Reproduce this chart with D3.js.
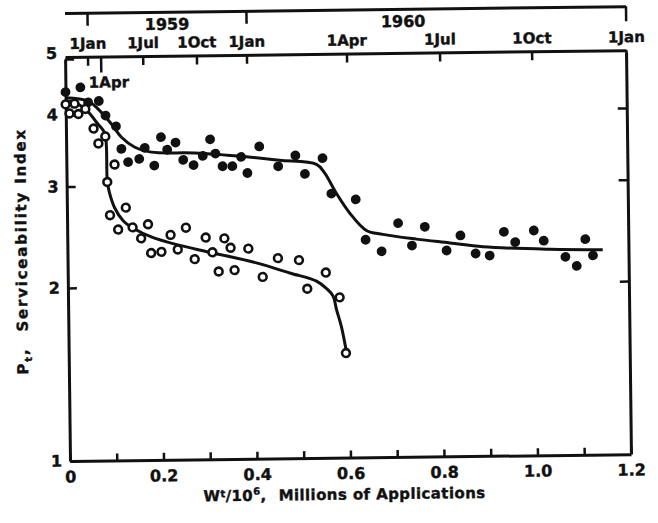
<!DOCTYPE html>
<html>
<head>
<meta charset="utf-8">
<script src="https://cdnjs.cloudflare.com/ajax/libs/d3/7.8.5/d3.min.js"></script>
<style>
  body { margin: 0; background: #fff; }
  svg { display: block; }
  text { font-family: "DejaVu Sans", sans-serif; font-weight: bold; fill: #111; stroke: #111; stroke-width: 0.4px; }
  .axis path, .axis line { stroke: #111; }
  .axis path { stroke-width: 3; }
  .axis line { stroke-width: 2.5; }
  .axis text { font-size: 16px; font-family: "DejaVu Sans", sans-serif; font-weight: bold; fill: #111; stroke: #111; stroke-width: 0.4px; }
</style>
</head>
<body>
<svg width="658" height="523"></svg>
<script>
// closed circles: upper test section
var filledWt = [0.0, 0.032, 0.048, 0.071, 0.085, 0.107, 0.118, 0.132, 0.156, 0.168, 0.188, 0.203,
  0.216, 0.234, 0.250, 0.272, 0.292, 0.308, 0.319, 0.334, 0.355, 0.374, 0.387, 0.413, 0.453, 0.490,
  0.510, 0.548, 0.566, 0.618, 0.638, 0.672, 0.708, 0.737, 0.765, 0.811, 0.841, 0.873, 0.903, 0.934,
  0.958, 0.998, 1.019, 1.065, 1.089, 1.108, 1.124];
var filledP = [4.38, 4.46, 4.20, 4.22, 3.98, 3.81, 3.48, 3.30, 3.34, 3.49, 3.25, 3.64,
  3.46, 3.56, 3.32, 3.25, 3.37, 3.60, 3.40, 3.23, 3.23, 3.35, 3.14, 3.49, 3.22, 3.36,
  3.12, 3.32, 2.88, 2.81, 2.39, 2.28, 2.55, 2.33, 2.51, 2.28, 2.42, 2.25, 2.23, 2.45,
  2.35, 2.46, 2.36, 2.21, 2.13, 2.37, 2.22];

// open circles: lower test section
var openWt = [0.0, 0.019, 0.008, 0.027, 0.042, 0.059, 0.084, 0.069, 0.103, 0.087, 0.092, 0.126,
  0.109, 0.140, 0.158, 0.173, 0.179, 0.201, 0.221, 0.236, 0.254, 0.272, 0.296, 0.310, 0.323,
  0.336, 0.349, 0.357, 0.387, 0.417, 0.450, 0.495, 0.512, 0.552, 0.581, 0.593];
var openP = [4.17, 4.18, 4.02, 4.01, 4.09, 3.78, 3.66, 3.56, 3.27, 3.05, 2.67, 2.75,
  2.52, 2.54, 2.43, 2.57, 2.29, 2.30, 2.46, 2.32, 2.53, 2.23, 2.43, 2.29, 2.12,
  2.42, 2.33, 2.13, 2.32, 2.07, 2.23, 2.21, 1.97, 2.10, 1.90, 1.52];

// hand-fitted curves
var fitFilledWt = [0.0, 0.048, 0.069, 0.097, 0.118, 0.147, 0.182, 0.275, 0.385, 0.456, 0.535, 0.552,
  0.577, 0.605, 0.640, 0.675, 0.747, 0.818, 0.889, 1.032, 1.145];
var fitFilledP = [4.28, 4.22, 4.09, 3.85, 3.65, 3.50, 3.43, 3.41, 3.35, 3.30, 3.24, 3.13,
  2.88, 2.66, 2.48, 2.44, 2.39, 2.35, 2.31, 2.28, 2.27];
var fitOpenWt = [0.0, 0.019, 0.046, 0.065, 0.083, 0.086, 0.087, 0.091, 0.102, 0.120, 0.145, 0.181,
  0.230, 0.305, 0.404, 0.475, 0.532, 0.553, 0.567, 0.574, 0.584, 0.594];
var fitOpenP = [4.23, 4.20, 4.06, 3.88, 3.71, 3.53, 3.07, 2.93, 2.75, 2.61, 2.52, 2.44,
  2.37, 2.29, 2.19, 2.10, 2.03, 1.97, 1.91, 1.81, 1.69, 1.53];

// axes
var xTicks = [0, 0.1, 0.2, 0.3, 0.4, 0.5, 0.6, 0.7, 0.8, 0.9, 1.0, 1.1, 1.2];
var yTicks = [1, 2, 3, 4, 5];
var dateLabels = ['1Jan', '1Apr', '1Jul', '1Oct', '1Jan', '1Apr', '1Jul', '1Oct', '1Jan'];
var dateWt = [0.048, 0.076, 0.166, 0.281, 0.388, 0.602, 0.801, 0.998, 1.2];
var years = ['1959', '1960'];
var yearWt = [0.219, 0.724];
var yearStartWt = [0.048, 0.388];

var svg = d3.select('svg'),
  margin = {top: 57, left: 70},
  width = 561,
  height = 404;

var x = d3.scaleLinear().domain([0, 1.2]).range([0, width]);
var y = d3.scaleLog().domain([1, 5]).range([height, 2]);

// the scanned figure sits slightly tilted
var root = svg.append('g')
  .attr('transform', 'rotate(-0.7,' + margin.left + ',' + (margin.top + height) + ')');
var g = root.append('g')
  .attr('transform', 'translate(' + margin.left + ',' + margin.top + ')');

g.append('g')
  .attr('class', 'axis axis--x')
  .attr('transform', 'translate(0,' + height + ')')
  .call(d3.axisBottom(x).tickValues(xTicks).tickSize(-7).tickSizeOuter(0).tickPadding(10)
    .tickFormat(function(d) {
      if (Math.round(d * 10) % 2 !== 0) return '';
      return d === 0 ? '0' : d3.format('.1f')(d);
    }));

var yAxis = g.append('g')
  .attr('class', 'axis axis--y')
  .call(d3.axisLeft(y).tickValues(yTicks).tickSize(-9).tickSizeOuter(0).tickPadding(8)
    .tickFormat(d3.format('d')));
yAxis.selectAll('.tick text').filter(function(d) { return d === 5; }).attr('dy', '-0.05em');

g.append('g')
  .attr('class', 'axis axis--right')
  .attr('transform', 'translate(' + width + ',0)')
  .call(d3.axisRight(y).tickValues([2, 3, 4]).tickSize(-9).tickSizeOuter(0).tickFormat(''));

var topAxis = g.append('g')
  .attr('class', 'axis axis--top')
  .call(d3.axisTop(x).tickValues(dateWt).tickSize(-9).tickSizeOuter(0).tickPadding(8)
    .tickFormat(function(d, i) { return i === 1 ? '' : dateLabels[i]; }));
topAxis.selectAll('.tick text').style('font-size', '15px');

// 1 Apr 1959: longer tick, label inside the frame
topAxis.selectAll('.tick').filter(function(d, i) { return i === 1; })
  .select('line').attr('y2', 16);
g.append('text')
  .attr('x', x(dateWt[1]) + 8)
  .attr('y', 31)
  .attr('text-anchor', 'middle')
  .style('font-size', '15px')
  .text(dateLabels[1]);

// year bar
var yearBar = g.append('g')
  .attr('class', 'axis axis--year')
  .attr('transform', 'translate(0,-44)')
  .call(d3.axisBottom(x).tickValues(yearStartWt.concat([1.2])).tickSize(13).tickSizeOuter(0).tickFormat(''));
yearBar.selectAll('.tick line').filter(function(d) { return d === 1.2; }).attr('y2', 15);

g.selectAll('.year')
  .data(years)
  .enter().append('text')
  .attr('class', 'year')
  .attr('x', function(d, i) { return x(yearWt[i]); })
  .attr('y', -26)
  .attr('text-anchor', 'middle')
  .style('font-size', '16px')
  .text(function(d) { return d; });

// fitted curves
var line = d3.line()
  .x(function(d) { return x(d[0]); })
  .y(function(d) { return y(d[1]); })
  .curve(d3.curveCatmullRom.alpha(0.5));

g.append('path')
  .datum(d3.zip(fitFilledWt, fitFilledP))
  .attr('fill', 'none').attr('stroke', '#111').attr('stroke-width', 3)
  .attr('d', line);
g.append('path')
  .datum(d3.zip(fitOpenWt, fitOpenP))
  .attr('fill', 'none').attr('stroke', '#111').attr('stroke-width', 3)
  .attr('d', line);

// points
g.selectAll('.filled')
  .data(d3.zip(filledWt, filledP))
  .enter().append('circle')
  .attr('class', 'filled')
  .attr('cx', function(d) { return x(d[0]); })
  .attr('cy', function(d) { return y(d[1]); })
  .attr('r', 4.9)
  .attr('fill', '#111');

g.selectAll('.open')
  .data(d3.zip(openWt, openP))
  .enter().append('circle')
  .attr('class', 'open')
  .attr('cx', function(d) { return x(d[0]); })
  .attr('cy', function(d) { return y(d[1]); })
  .attr('r', 3.9)
  .attr('fill', '#fff')
  .attr('stroke', '#111')
  .attr('stroke-width', 2.6);

// axis titles
var xt = g.append('text')
  .attr('x', 133)
  .attr('y', height + 42)
  .style('font-size', '15px')
  .style('letter-spacing', '0.4px');
xt.append('tspan').text('W');
xt.append('tspan').attr('dy', -4).style('font-size', '10px').text('t');
xt.append('tspan').attr('dy', 4).text('/10');
xt.append('tspan').attr('dy', -6).style('font-size', '10px').text('6');
xt.append('tspan').attr('dy', 6).text(',');
xt.append('tspan').attr('dx', 12).text('Millions of Applications');

var yt = g.append('text')
  .attr('transform', 'translate(-46,' + (height - 87) + ') rotate(-90)')
  .attr('dy', '0.35em')
  .style('font-size', '15px')
  .style('letter-spacing', '1.8px');
yt.append('tspan').text('P');
yt.append('tspan').attr('dy', 4).style('font-size', '10px').text('t');
yt.append('tspan').attr('dy', -4).text(',');
yt.append('tspan').attr('dx', 16).text('Serviceability Index');
</script>
</body>
</html>
